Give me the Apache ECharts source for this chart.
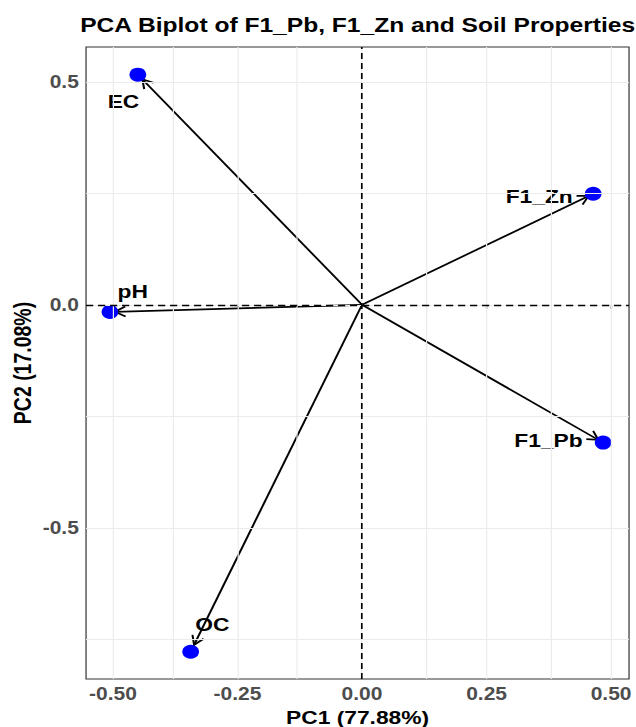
<!DOCTYPE html>
<html>
<head>
<meta charset="utf-8">
<script src="https://cdn.jsdelivr.net/npm/echarts@6/dist/echarts.min.js"></script>
<style>
  html, body { margin: 0; padding: 0; background: #fff; overflow: hidden; }
  /* the figure is drawn on a 530px-wide canvas and widened to 636px */
  #chart { width: 530px; height: 727px; transform: scaleX(1.2); transform-origin: 0 0; }
</style>
</head>
<body>
<div id="chart"></div>
<script>
// PCA loadings (variables) on the first two components
const variables = ['F1_Pb', 'F1_Zn', 'pH', 'EC', 'OC'];
const pc1 = [0.484, 0.464, -0.506, -0.450, -0.344];
const pc2 = [-0.309, 0.249, -0.016, 0.516, -0.778];

// axis ticks and grid
const xTicks = [-0.5, -0.25, 0, 0.25, 0.5];
const yTicks = [-0.5, 0, 0.5];
const xMinor = [-0.375, -0.125, 0.125, 0.375];
const yMinor = [-0.75, -0.25, 0.25];

const titleText = 'PCA Biplot of F1_Pb, F1_Zn and Soil Properties';
const xTitle = 'PC1 (77.88%)';
const yTitle = 'PC2 (17.08%)';

// label placement around each point (px): [dx, dy, align]
const labelPlacement = {
  'F1_Pb': [-17, -2, 'right'],
  'F1_Zn': [-17, 2, 'right'],
  'pH': [19, -21, 'center'],
  'EC': [-12, 27, 'center'],
  'OC': [18, -28, 'center']
};

const FONT = '"Liberation Sans", Arial, Helvetica, sans-serif';
const tipScale = 0.98;  // arrows stop just short of the point centres

const chart = echarts.init(document.getElementById('chart'), null, { renderer: 'svg' });

const gridColor = '#EBEBEB';
const gridLines = [];
xTicks.concat(xMinor).forEach(v => gridLines.push({ xAxis: v }));
yTicks.concat(yMinor).forEach(v => gridLines.push({ yAxis: v }));

const points = variables.map((name, i) => {
  const pl = labelPlacement[name];
  return {
    name: name,
    value: [pc1[i], pc2[i]],
    label: { offset: [pl[0], pl[1]], align: pl[2] }
  };
});

chart.setOption({
  animation: false,
  backgroundColor: '#ffffff',
  graphic: [{
    type: 'text',
    x: 298, y: 25,
    style: {
      text: titleText,
      font: 'bold 20.5px ' + FONT,
      fill: '#000',
      textAlign: 'center',
      textVerticalAlign: 'middle'
    }
  }],
  grid: {
    left: 71.7, right: 5.8, top: 47, bottom: 48,
    outerBoundsMode: 'none', containLabel: false,
    show: true, borderColor: '#333333', borderWidth: 1, backgroundColor: '#fff'
  },
  xAxis: {
    type: 'value', min: -0.554, max: 0.536,
    name: xTitle, nameLocation: 'middle', nameGap: 26,
    nameTextStyle: { fontFamily: FONT, fontWeight: 'bold', fontSize: 19, color: '#000' },
    axisLine: { show: false },
    axisTick: { show: true, customValues: xTicks, length: 4, lineStyle: { color: '#333333', width: 1.2 } },
    axisLabel: {
      customValues: xTicks, margin: 6,
      fontFamily: FONT, fontWeight: 'bold', fontSize: 17.5, color: '#4D4D4D',
      formatter: v => v.toFixed(2)
    },
    splitLine: { show: false }
  },
  yAxis: {
    type: 'value', min: -0.839, max: 0.578,
    name: yTitle, nameLocation: 'middle', nameGap: 42, nameRotate: 90,
    nameMoveOverlap: false,
    nameTextStyle: { fontFamily: FONT, fontWeight: 'bold', fontSize: 19.5, color: '#000' },
    axisLine: { show: false },
    axisTick: { show: true, customValues: yTicks, length: 4, lineStyle: { color: '#333333', width: 1 } },
    axisLabel: {
      customValues: yTicks, margin: 6,
      fontFamily: FONT, fontWeight: 'bold', fontSize: 17.5, color: '#4D4D4D',
      formatter: v => v.toFixed(1)
    },
    splitLine: { show: false }
  },
  series: [
    {
      // background grid
      type: 'line', data: [], silent: true, z: 1,
      markLine: {
        silent: true, symbol: 'none', animation: false,
        label: { show: false },
        lineStyle: { color: gridColor, width: 1, type: 'solid' },
        data: gridLines
      }
    },
    {
      // dashed reference lines through the origin
      type: 'line', data: [], silent: true, z: 2,
      markLine: {
        silent: true, symbol: 'none', animation: false,
        label: { show: false },
        lineStyle: { color: '#000', width: 1.4, type: [6, 4] },
        data: [{ xAxis: 0 }, { yAxis: 0 }]
      }
    },
    {
      // loading arrows from the origin with open heads
      type: 'custom', z: 3, silent: true,
      data: variables.map((n, i) => [pc1[i], pc2[i]]),
      renderItem: function (params, api) {
        const o = api.coord([0, 0]);
        const p = api.coord([api.value(0) * tipScale, api.value(1) * tipScale]);
        const ang = Math.atan2(p[1] - o[1], p[0] - o[0]);
        const L = 10, a = Math.PI / 6;
        const h1 = [p[0] - L * Math.cos(ang - a), p[1] - L * Math.sin(ang - a)];
        const h2 = [p[0] - L * Math.cos(ang + a), p[1] - L * Math.sin(ang + a)];
        return {
          type: 'group',
          children: [
            { type: 'line', shape: { x1: o[0], y1: o[1], x2: p[0], y2: p[1] },
              style: { stroke: '#000', lineWidth: 1.7 } },
            { type: 'polyline', shape: { points: [h1, p, h2] },
              style: { stroke: '#000', fill: null, lineWidth: 1.7 } }
          ]
        };
      }
    },
    {
      type: 'scatter', z: 4,
      symbol: 'circle', symbolSize: 14,
      itemStyle: { color: '#0000FF', opacity: 1 },
      label: {
        show: true, position: 'inside',
        formatter: '{b}',
        fontFamily: FONT, fontWeight: 'bold', fontSize: 19, color: '#000',
        verticalAlign: 'middle'
      },
      data: points
    }
  ]
});
</script>
</body>
</html>
